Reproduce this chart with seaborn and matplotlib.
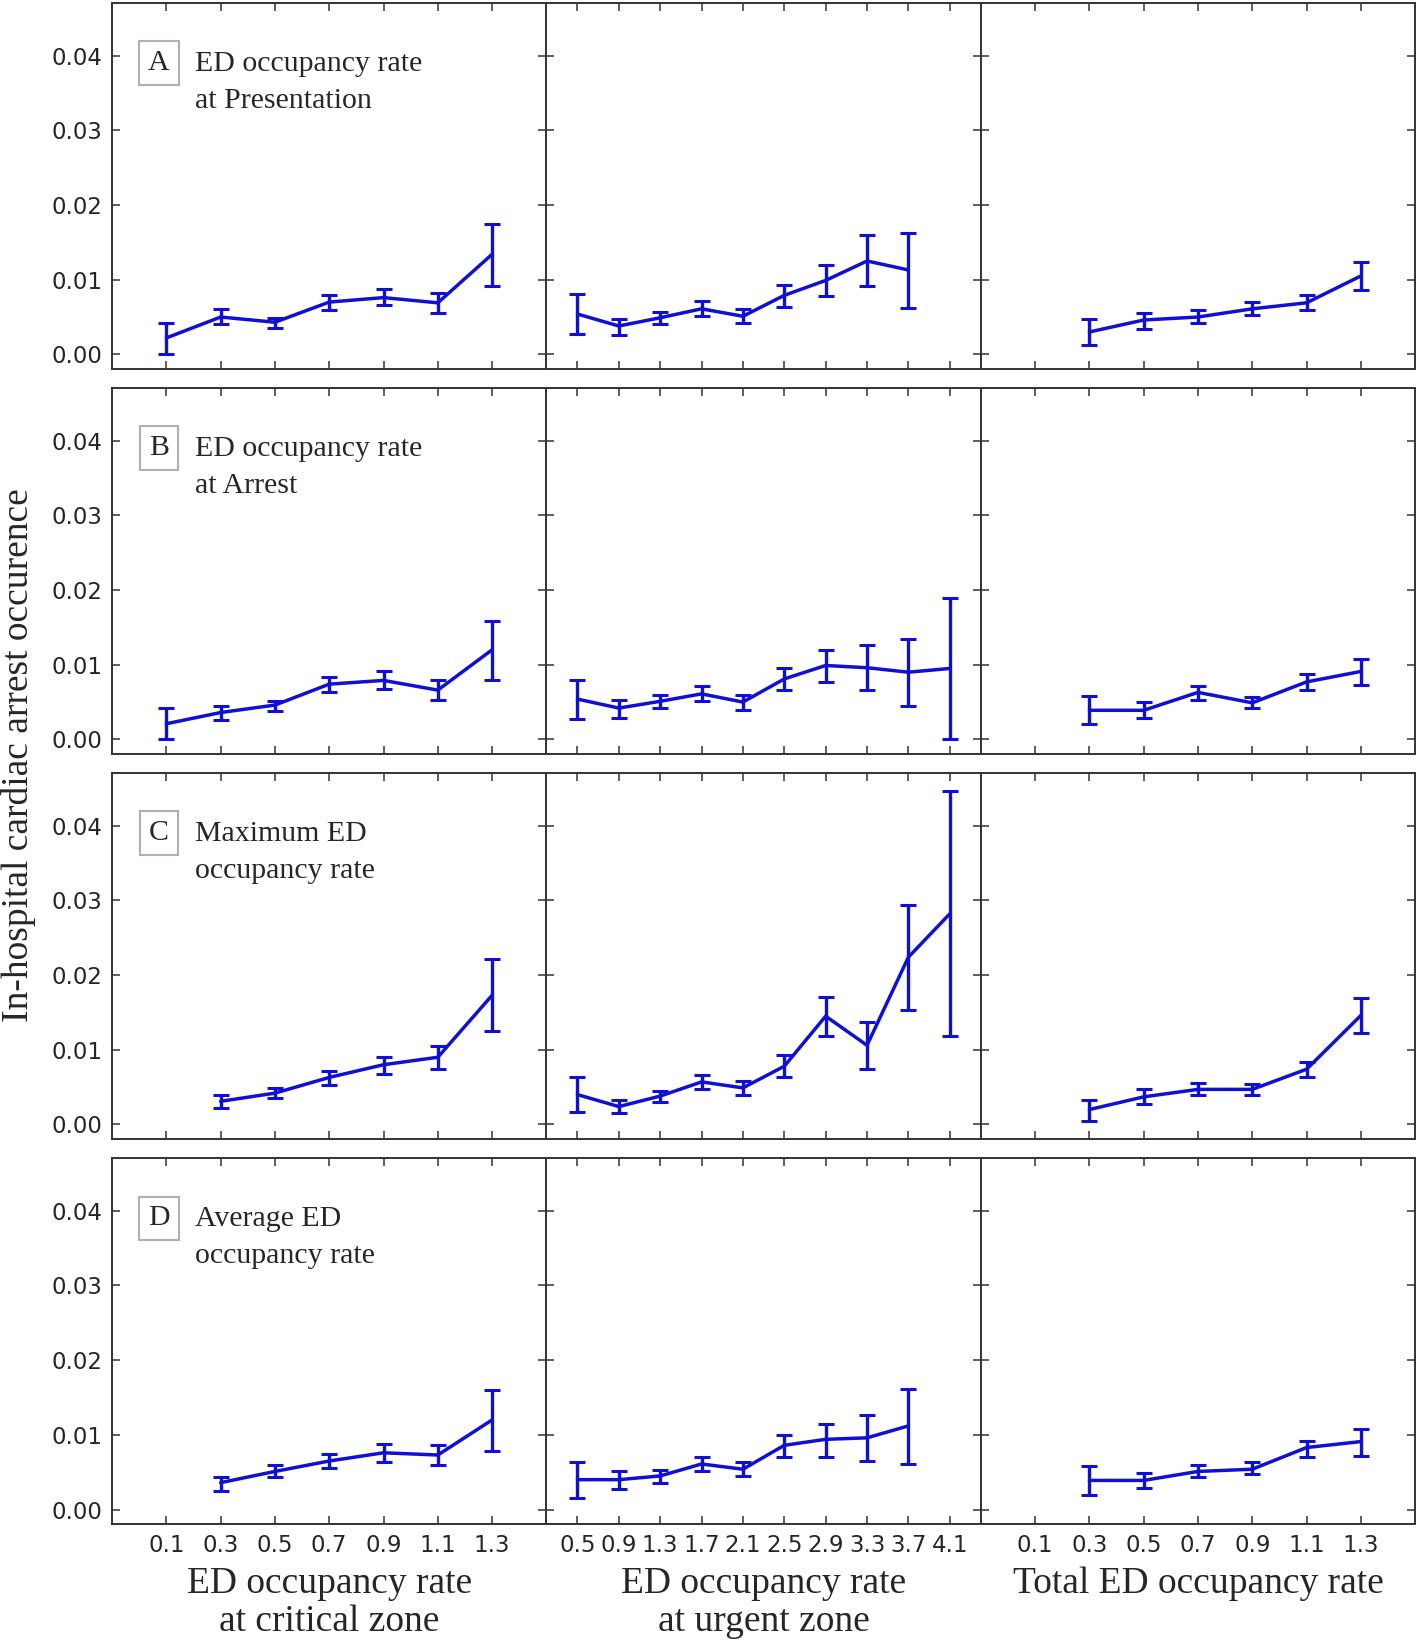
import numpy as np
import pandas as pd
import matplotlib
matplotlib.use('Agg')
import matplotlib.pyplot as plt
import seaborn as sns

# category levels for the three x axes
critical_levels = ['0.1', '0.3', '0.5', '0.7', '0.9', '1.1', '1.3']
urgent_levels = ['0.5', '0.9', '1.3', '1.7', '2.1', '2.5', '2.9', '3.3', '3.7', '4.1']
total_levels = ['0.1', '0.3', '0.5', '0.7', '0.9', '1.1', '1.3']

# A - occupancy at presentation
a_crit = [0.0022, 0.0050, 0.0043, 0.0070, 0.0076, 0.0069, 0.0134]
a_crit_lo = [0.0001, 0.0040, 0.0035, 0.0060, 0.0066, 0.0055, 0.0092]
a_crit_hi = [0.0042, 0.0061, 0.0049, 0.0079, 0.0088, 0.0082, 0.0175]
a_urg = [0.0054, 0.0038, 0.0049, 0.0061, 0.0051, 0.0079, 0.0099, 0.0125, 0.0113, None]
a_urg_lo = [0.0027, 0.0026, 0.0040, 0.0052, 0.0042, 0.0064, 0.0078, 0.0091, 0.0062, None]
a_urg_hi = [0.0081, 0.0048, 0.0057, 0.0071, 0.0061, 0.0093, 0.0120, 0.0160, 0.0163, None]
a_tot = [None, 0.0030, 0.0046, 0.0050, 0.0061, 0.0069, 0.0105]
a_tot_lo = [None, 0.0012, 0.0034, 0.0042, 0.0053, 0.0059, 0.0086]
a_tot_hi = [None, 0.0048, 0.0056, 0.0059, 0.0070, 0.0079, 0.0124]

# B - occupancy at arrest
b_crit = [0.0021, 0.0036, 0.0046, 0.0074, 0.0079, 0.0066, 0.0120]
b_crit_lo = [0.0000, 0.0026, 0.0038, 0.0064, 0.0068, 0.0053, 0.0080]
b_crit_hi = [0.0042, 0.0045, 0.0052, 0.0083, 0.0091, 0.0079, 0.0159]
b_urg = [0.0054, 0.0042, 0.0051, 0.0061, 0.0050, 0.0081, 0.0099, 0.0096, 0.0090, 0.0095]
b_urg_lo = [0.0027, 0.0029, 0.0042, 0.0051, 0.0040, 0.0066, 0.0077, 0.0066, 0.0045, 0.0000]
b_urg_hi = [0.0080, 0.0053, 0.0060, 0.0071, 0.0059, 0.0095, 0.0120, 0.0127, 0.0134, 0.0189]
b_tot = [None, 0.0039, 0.0039, 0.0063, 0.0049, 0.0077, 0.0091]
b_tot_lo = [None, 0.0020, 0.0029, 0.0053, 0.0042, 0.0066, 0.0073]
b_tot_hi = [None, 0.0058, 0.0050, 0.0071, 0.0057, 0.0087, 0.0108]

# C - maximum occupancy
c_crit = [None, 0.0031, 0.0042, 0.0063, 0.0080, 0.0090, 0.0173]
c_crit_lo = [None, 0.0022, 0.0035, 0.0053, 0.0068, 0.0074, 0.0125]
c_crit_hi = [None, 0.0039, 0.0049, 0.0071, 0.0091, 0.0105, 0.0221]
c_urg = [0.0040, 0.0024, 0.0038, 0.0057, 0.0049, 0.0078, 0.0145, 0.0106, 0.0224, 0.0282]
c_urg_lo = [0.0017, 0.0015, 0.0030, 0.0048, 0.0040, 0.0063, 0.0119, 0.0074, 0.0153, 0.0119]
c_urg_hi = [0.0064, 0.0033, 0.0045, 0.0066, 0.0058, 0.0093, 0.0171, 0.0137, 0.0294, 0.0447]
c_tot = [None, 0.0020, 0.0037, 0.0047, 0.0047, 0.0074, 0.0146]
c_tot_lo = [None, 0.0005, 0.0027, 0.0039, 0.0040, 0.0063, 0.0123]
c_tot_hi = [None, 0.0033, 0.0047, 0.0056, 0.0054, 0.0083, 0.0169]

# D - average occupancy
d_crit = [None, 0.0036, 0.0051, 0.0065, 0.0076, 0.0073, 0.0120]
d_crit_lo = [None, 0.0025, 0.0043, 0.0055, 0.0064, 0.0059, 0.0079]
d_crit_hi = [None, 0.0044, 0.0060, 0.0074, 0.0088, 0.0087, 0.0160]
d_urg = [0.0040, 0.0040, 0.0045, 0.0061, 0.0054, 0.0086, 0.0094, 0.0096, 0.0112, None]
d_urg_lo = [0.0016, 0.0028, 0.0036, 0.0052, 0.0045, 0.0070, 0.0071, 0.0065, 0.0061, None]
d_urg_hi = [0.0063, 0.0052, 0.0053, 0.0071, 0.0063, 0.0100, 0.0115, 0.0126, 0.0162, None]
d_tot = [None, 0.0039, 0.0039, 0.0051, 0.0054, 0.0083, 0.0091]
d_tot_lo = [None, 0.0019, 0.0029, 0.0043, 0.0047, 0.0070, 0.0072]
d_tot_hi = [None, 0.0058, 0.0049, 0.0059, 0.0063, 0.0092, 0.0108]

row_letters = ['A', 'B', 'C', 'D']
row_titles = ['ED occupancy rate\nat Presentation', 'ED occupancy rate\nat Arrest',
              'Maximum ED\noccupancy rate', 'Average ED\noccupancy rate']
col_levels = [critical_levels, urgent_levels, total_levels]
col_xlabels = ['ED occupancy rate\nat critical zone', 'ED occupancy rate\nat urgent zone',
               'Total ED occupancy rate']
col_xlims = [(-1, 7), (-0.75, 9.75), (-1, 7)]

panels = [
    [(a_crit, a_crit_lo, a_crit_hi), (a_urg, a_urg_lo, a_urg_hi), (a_tot, a_tot_lo, a_tot_hi)],
    [(b_crit, b_crit_lo, b_crit_hi), (b_urg, b_urg_lo, b_urg_hi), (b_tot, b_tot_lo, b_tot_hi)],
    [(c_crit, c_crit_lo, c_crit_hi), (c_urg, c_urg_lo, c_urg_hi), (c_tot, c_tot_lo, c_tot_hi)],
    [(d_crit, d_crit_lo, d_crit_hi), (d_urg, d_urg_lo, d_urg_hi), (d_tot, d_tot_lo, d_tot_hi)],
]

sns.set_style('ticks')
plt.rcParams['font.family'] = ['DejaVu Sans']
plt.rcParams['xtick.direction'] = 'in'
plt.rcParams['ytick.direction'] = 'in'

blue = '#1010d4'
serif = 'Liberation Serif'

fig, axes = plt.subplots(4, 3, figsize=(14.18, 16.41), dpi=100, sharey=True)
fig.subplots_adjust(left=0.079, right=0.998, top=0.998, bottom=0.071, wspace=0, hspace=0.052)

for r in range(4):
    for c in range(3):
        ax = axes[r, c]
        mean, lo, hi = panels[r][c]
        levels = col_levels[c]
        df = pd.DataFrame({'pos': np.arange(len(levels)), 'level': levels,
                           'rate': mean, 'lo': lo, 'hi': hi}).dropna()
        df = df.astype({'rate': float, 'lo': float, 'hi': float})
        sns.lineplot(data=df, x='pos', y='rate', ax=ax, color=blue, linewidth=2.5)
        ax.errorbar(df['pos'], df['rate'], yerr=[df['rate'] - df['lo'], df['hi'] - df['rate']],
                    fmt='none', ecolor=blue, elinewidth=2.4, capsize=5.5, capthick=2.2)

        ax.set_xlim(*col_xlims[c])
        ax.set_ylim(-0.002, 0.047)
        ax.set_xticks(np.arange(len(levels)))
        ax.set_yticks([0, 0.01, 0.02, 0.03, 0.04])
        ax.set_yticklabels(['0.00', '0.01', '0.02', '0.03', '0.04'])
        ax.tick_params(axis='both', which='both', direction='in', top=True, right=True,
                       length=6, width=1.1, color='#333333', labelsize=16.5, pad=7)
        ax.tick_params(axis='y', labelleft=(c == 0))
        for s in ax.spines.values():
            s.set_color('#333333')
            s.set_linewidth(1.4)
        ax.set_ylabel('')
        if r == 3:
            ax.set_xticklabels(levels)
            ax.set_xlabel(col_xlabels[c], fontsize=27, family=serif, labelpad=7, linespacing=1.12)
        else:
            ax.set_xticklabels([])
            ax.set_xlabel('')

    ax0 = axes[r, 0]
    ax0.text(0.108, 0.836, row_letters[r], transform=ax0.transAxes, fontsize=21.5, family=serif,
             ha='center', va='center',
             bbox=dict(boxstyle='square,pad=0.3', fc='white', ec='#b0b0b0', lw=1.5))
    ax0.text(0.19, 0.784, row_titles[r], transform=ax0.transAxes, fontsize=21.5, family=serif,
             ha='left', va='center', linespacing=1.55)

fig.text(0.013, 0.54, 'In-hospital cardiac arrest occurence', rotation=90, fontsize=27,
         family=serif, ha='center', va='center')

fig.savefig('out.png', dpi=100)
